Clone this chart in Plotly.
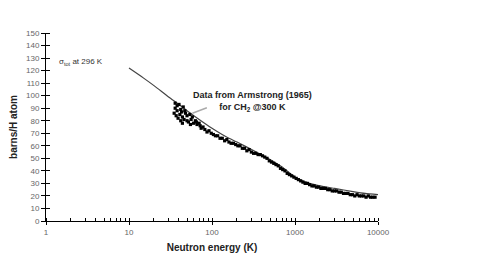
import numpy as np
import plotly.graph_objects as go

# Calculated total cross section (line)
calc_E = [10, 15, 20, 30, 40, 50, 70, 100, 150, 200, 300, 500, 700, 1000, 1500, 2000, 3000, 5000, 7000, 10000]
calc_sigma = [122, 114, 108, 99, 93, 88, 81, 74, 67, 63, 57, 49, 43, 35, 30, 28, 26, 23.5, 22, 21]

# Measured data (Armstrong 1965, CH2 @300 K)
meas_E = [35, 36, 37, 38, 39, 40, 41, 42, 43, 44, 45, 46, 48, 50, 52, 54, 56, 58, 60, 63,
          66, 70, 74, 78, 82, 87, 92, 98, 104, 110, 117, 125, 133, 142, 151, 160, 170, 181,
          193, 205, 218, 232, 247, 263, 280, 298, 317, 337, 359, 382, 406, 432, 460, 490,
          521, 555, 590, 628, 668, 711, 757, 805, 857, 912, 970, 1033, 1099, 1170, 1245,
          1325, 1410, 1500, 1600, 1700, 1810, 1930, 2050, 2190, 2330, 2480, 2640, 2810,
          2990, 3180, 3390, 3610, 3840, 4090, 4350, 4630, 4930, 5250, 5590, 5950, 6330,
          6740, 7180, 7640, 8130, 8660, 9220,
          36, 38, 42, 47, 44, 50, 55, 65, 72]
meas_sigma = [86, 90, 84, 88, 82, 93, 85, 80, 87, 83, 91, 81, 86, 84, 79, 85, 81, 83, 78, 80,
              77, 78, 74, 75, 73, 71, 72, 70, 69, 68, 68, 66, 66, 64, 65, 63, 62, 62,
              61, 60, 60, 58, 58, 56, 57, 55, 54, 54, 53, 53, 52, 51, 50, 48,
              47, 46, 45, 44, 42, 41, 40, 38, 37, 36, 35, 34, 33, 32, 31,
              30, 30, 29, 28, 28, 27, 27, 26, 26, 26, 25, 25, 24,
              24, 24, 23, 23, 22, 22, 22, 21, 21, 20, 21, 20, 20,
              20, 19, 20, 19, 19, 19,
              94, 92, 89, 88, 78, 80, 77, 79, 76]

y_ticks = list(range(0, 151, 10))
x_ticks = [1, 10, 100, 1000, 10000]

fig = go.Figure()
fig.add_trace(go.Scatter(x=calc_E, y=calc_sigma, mode="lines",
                         line=dict(color="#444444", width=1.2, shape="spline", smoothing=0.6),
                         showlegend=False))
fig.add_trace(go.Scatter(x=meas_E, y=meas_sigma, mode="markers",
                         marker=dict(color="black", size=3.2, symbol="square"),
                         showlegend=False))

font_family = "Liberation Sans, Arial, sans-serif"

fig.update_layout(
    width=485, height=267,
    margin=dict(l=38, r=115, t=25, b=54),
    paper_bgcolor="white", plot_bgcolor="white",
    font=dict(family=font_family, size=8, color="#555555"),
    xaxis=dict(type="log", range=[0, 4], tickvals=x_ticks, ticktext=[str(v) for v in x_ticks],
               automargin=False,
               showgrid=False, zeroline=False, showline=True, linecolor="black", linewidth=1,
               ticks="outside", ticklen=3, tickcolor="black",
               minor=dict(ticks="inside", ticklen=3, tickcolor="black", dtick="D1", showgrid=False),
               tickfont=dict(size=8, color="#666666"),
               title=dict(text="<b>Neutron energy (K)</b>", font=dict(size=10, color="#222222"), standoff=8)),
    yaxis=dict(range=[0, 150], tickvals=y_ticks, showgrid=False, zeroline=False,
               automargin=False,
               showline=True, linecolor="black", linewidth=1,
               ticks="outside", ticklen=4, tickcolor="black",
               minor=dict(ticks="inside", ticklen=4, tickcolor="black", tickvals=y_ticks, showgrid=False),
               tickfont=dict(size=8, color="#666666"),
               title=dict(text="<b>barns/H atom</b>", font=dict(size=10, color="#222222"), standoff=10)),
)

fig.add_annotation(xref="paper", yref="y", x=0.033, y=127, xanchor="left", yanchor="middle",
                   text="σ<sub>tot</sub> at 296 K", showarrow=False,
                   font=dict(size=8, color="#333333"))
fig.add_annotation(xref="x", yref="y", x=np.log10(58), y=86, ax=16, ay=-6,
                   text="", showarrow=True, arrowhead=0, arrowwidth=1.5, arrowcolor="#aaaaaa")
fig.add_annotation(xref="paper", yref="y", x=(252 - 46) / 332, y=95, xanchor="center", yanchor="middle",
                   text="<b>Data from Armstrong (1965)<br>for CH<sub>2</sub> @300 K</b>",
                   showarrow=False, align="center", font=dict(size=9, color="#222222"))

fig.write_html("out.html")
